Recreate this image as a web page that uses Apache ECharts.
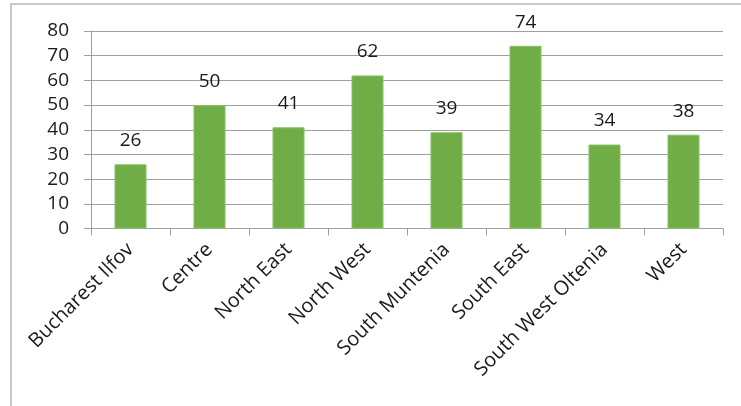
<!DOCTYPE html>
<html><head><meta charset="utf-8">
<script src="https://cdn.jsdelivr.net/npm/echarts@6/dist/echarts.min.js"></script>
<style>html,body{margin:0;padding:0;background:#fff}#c{width:741px;height:406px}</style>
</head><body><div id="c"></div>
<script>
var categories = ["Bucharest Ilfov","Centre","North East","North West","South Muntenia","South East","South West Oltenia","West"];
var values = [26,50,41,62,39,74,34,38];
var yTicks = [0,10,20,30,40,50,60,70,80];
var chart = echarts.init(document.getElementById('c'));
var font = '"Open Sans", sans-serif';
chart.setOption({
  animation:false,
  graphic:[{type:'rect',shape:{x:11,y:4,width:800,height:500},style:{fill:'none',stroke:'#b8b8b8',lineWidth:1.5},silent:true}],
  grid:{left:91,right:18,top:31,bottom:177.5},
  xAxis:{type:'category',data:categories,
    axisLine:{lineStyle:{color:'#a0a0a0',width:1}},
    axisTick:{show:true,length:7,lineStyle:{color:'#a0a0a0'}},
    axisLabel:{rotate:45,margin:18,color:'#1a1a1a',fontSize:20,fontFamily:font,interval:0}},
  yAxis:{type:'value',min:yTicks[0],max:yTicks[yTicks.length-1],interval:10,
    axisLine:{show:true,lineStyle:{color:'#a0a0a0'}},
    axisTick:{show:true,length:7,lineStyle:{color:'#a0a0a0'}},
    splitLine:{lineStyle:{color:'#a0a0a0',width:1}},
    axisLabel:{margin:22,color:'#1a1a1a',fontSize:19,fontFamily:font}},
  series:[{type:'bar',data:values,barWidth:32,
    itemStyle:{color:'#70ad47',borderColor:'#86c060',borderWidth:1},
    label:{show:true,position:'top',distance:14,color:'#1a1a1a',fontSize:19,fontFamily:font}}]
});
</script></body></html>
